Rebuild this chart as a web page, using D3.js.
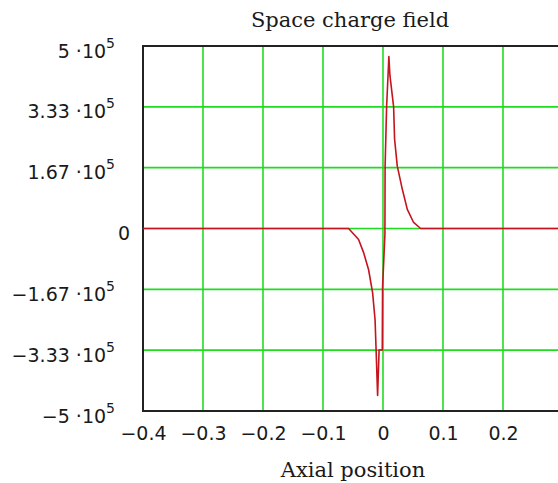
<!DOCTYPE html>
<html><head><meta charset="utf-8">
<script src="https://cdn.jsdelivr.net/npm/d3@7"></script>
<style>
body{margin:0;background:#fff}
svg{display:block}
.tick-label{font-family:"DejaVu Sans",sans-serif;font-size:19px;fill:#1a1a1a}
.caption{font-family:"DejaVu Serif",serif;font-size:21px;fill:#1a1a1a}
</style>
</head><body>
<svg id="chart" width="558" height="483"></svg>
<script>
// Axis ticks
const xGrid = [-0.3, -0.2, -0.1, 0, 0.1, 0.2, 0.3];
const xTicks = [-0.4, -0.3, -0.2, -0.1, 0, 0.1, 0.2];
const xTickLabels = ["−0.4", "−0.3", "−0.2", "−0.1", "0", "0.1", "0.2"];
const yTicks = [5e5, 1e6 / 3, 5e5 / 3, 0, -5e5 / 3, -1e6 / 3, -5e5];
const yMantissa = ["5", "3.33", "1.67", "0", "−1.67", "−3.33", "−5"];
const yExponent = "5";

// Field samples along the axis
const position = [-0.4, -0.0573, -0.0407, -0.0323, -0.024, -0.0173, -0.0132, -0.0115, -0.009,
  -0.0065, -0.0012, -0.0007, 0.0032, 0.0035, 0.006, 0.0098, 0.0115, 0.0177, 0.0193, 0.0238,
  0.0322, 0.0405, 0.051, 0.0627, 0.4];
const field = [0, 0, -30300, -66100, -113000, -176300, -250700, -333000, -457300,
  -333000, -333000, -159800, -16500, 170800, 333000, 471100, 420000, 333000, 245200, 170800,
  107400, 52300, 16500, 0, 0];

const svg = d3.select("#chart");
const x = d3.scaleLinear().domain([-0.4, 0.4]).range([143, 623]);
const y = d3.scaleLinear().domain([-5e5, 5e5]).range([411, 46]);

// Grid
const grid = svg.append("g");
grid.selectAll("line.v").data(xGrid).join("line")
  .attr("x1", d => x(d)).attr("x2", d => x(d))
  .attr("y1", y(5e5)).attr("y2", y(-5e5))
  .attr("stroke", "#1fdc1f").attr("stroke-width", 1.6);
grid.selectAll("line.h").data(yTicks.slice(1, -1)).join("line")
  .attr("x1", x(-0.4)).attr("x2", x(0.4))
  .attr("y1", d => y(d)).attr("y2", d => y(d))
  .attr("stroke", "#1fdc1f").attr("stroke-width", 1.6);

// Frame
svg.append("path")
  .attr("d", `M${x(0.4)},${y(5e5)}H${x(-0.4)}V${y(-5e5)}H${x(0.4)}`)
  .attr("fill", "none").attr("stroke", "#222").attr("stroke-width", 2);

// Trace
const pts = position.map((p, i) => [p, field[i]]);
svg.append("path").datum(pts)
  .attr("d", d3.line().x(d => x(d[0])).y(d => y(d[1])))
  .attr("fill", "none").attr("stroke", "#c4141e").attr("stroke-width", 1.6)
  .attr("stroke-linejoin", "round");

// X axis labels
const xAxis = d3.axisBottom(x).tickValues(xTicks).tickSize(0)
  .tickFormat((d, i) => xTickLabels[i]);
const gx = svg.append("g").attr("transform", `translate(0,${y(-5e5)})`).call(xAxis);
gx.select(".domain").remove();
gx.selectAll("text").attr("class", "tick-label").attr("y", 16).attr("dy", "0.71em")
  .attr("font-size", null).attr("font-family", null);

// Y axis labels with power-of-ten notation
const yAxis = d3.axisLeft(y).tickValues(yTicks).tickSize(0).tickFormat("");
const gy = svg.append("g").attr("transform", `translate(${x(-0.4)},0)`).call(yAxis);
gy.select(".domain").remove();
gy.selectAll(".tick text").remove();
gy.selectAll(".tick").each(function (d, i) {
  const t = d3.select(this).append("text").attr("class", "tick-label")
    .attr("text-anchor", "end").attr("y", 11);
  if (yMantissa[i] === "0") {
    t.attr("x", -13).text("0");
  } else {
    t.attr("x", -28);
    t.append("tspan").text(yMantissa[i] + " ·10");
    t.append("tspan").attr("dy", -10).attr("font-size", 14).text(yExponent);
  }
});

// Titles
svg.append("text").attr("class", "caption").attr("x", 350).attr("y", 27)
  .attr("text-anchor", "middle").text("Space charge field");
svg.append("text").attr("class", "caption").attr("x", 353).attr("y", 477)
  .attr("text-anchor", "middle").text("Axial position");
</script>
</body></html>
